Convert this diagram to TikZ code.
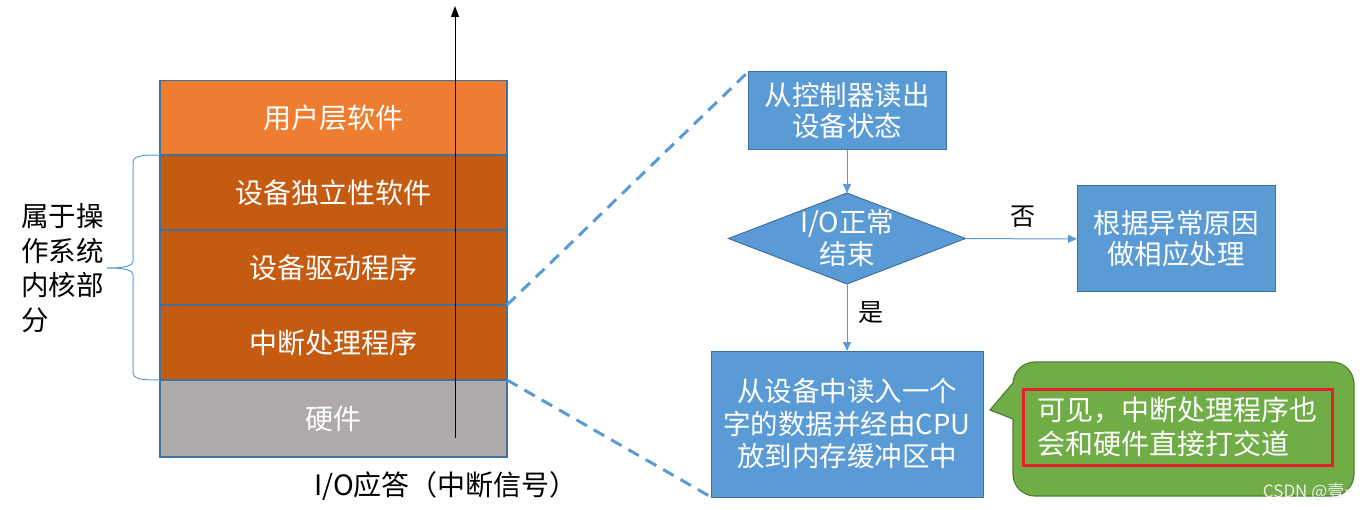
\documentclass[tikz,border=0pt]{standalone}
\usepackage{fontspec}
\setmainfont{Noto Sans CJK SC}
\usetikzlibrary{shapes.geometric,arrows.meta}
\definecolor{userc}{HTML}{ED7D31}
\definecolor{kernc}{HTML}{C55A11}
\definecolor{hwc}{HTML}{AEAAAA}
\definecolor{bluec}{HTML}{5B9BD5}
\definecolor{borderc}{HTML}{41719C}
\definecolor{greenc}{HTML}{70AD47}
\definecolor{greenb}{HTML}{507E32}
\definecolor{redc}{HTML}{E8202A}
\tikzset{
  layer/.style={draw=borderc, line width=1.2pt, minimum width=347pt, minimum height=75pt, inner sep=0pt, outer sep=0pt, text=white, font=\fontsize{28}{32}\selectfont},
  flowbox/.style={draw=borderc, line width=1pt, fill=bluec, inner sep=0pt, outer sep=0pt, text=white, align=center, font=\fontsize{27.5}{31}\selectfont},
  flowarrow/.style={draw=bluec, line width=1pt, -{Triangle[length=9pt,width=8pt]}},
  dashlink/.style={draw=bluec, line width=3pt, dash pattern=on 12pt off 8pt},
  lbl/.style={text=black, font=\fontsize{25}{28}\selectfont}
}
\begin{document}
\begin{tikzpicture}[x=1pt,y=-1pt]
\useasboundingbox (0,0) rectangle (1367,510);
% stack
\node[layer, fill=userc, minimum height=75pt] (user) at (333.5,118) {用户层软件};
\node[layer, fill=kernc] (indep) at (333.5,192.5) {设备独立性软件};
\node[layer, fill=kernc] (driver) at (333.5,267.5) {设备驱动程序};
\node[layer, fill=kernc] (intr) at (333.5,342.5) {中断处理程序};
\node[layer, fill=hwc, minimum height=77pt] (hw) at (333.5,418.5) {硬件};
% vertical arrow
\coordinate (ioStart) at (455,438);
\coordinate (ioEnd) at (455,6);
\draw[black, line width=1pt, -{Triangle[length=11pt,width=8pt]}] (ioStart) -- (ioEnd);
\node[lbl, font=\fontsize{28}{30}\selectfont] (iolabel) at (446,486) {I/O应答（中断信号）};
% brace
\draw[bluec, line width=1pt] (indep.north west) .. controls (140,155) and (133,156) .. (133,163)
  -- (133,261) .. controls (133,266) and (125,268) .. (107,268)
  .. controls (125,268) and (133,270) .. (133,275)
  -- (133,372) .. controls (133,379) and (140,380) .. (intr.south west);
\node[lbl, font=\fontsize{27.5}{34.5}\selectfont, align=left, anchor=west, inner sep=0pt] (kern) at (21,268) {属于操\\作系统\\内核部\\分};
% flowchart
\node[flowbox, minimum width=198pt, minimum height=78pt] (read) at (847,111) {从控制器读出\\设备状态};
\node[diamond, draw=borderc, line width=1pt, fill=bluec, minimum width=237pt, minimum height=91pt, inner sep=0pt, outer sep=0pt] (ok) at (847,238.5) {};
\node[text=white, align=center, font=\fontsize{27.5}{32}\selectfont, inner sep=0pt] (oktext) at (ok.center) {I/O正常\\结束};
\node[flowbox, minimum width=198pt, minimum height=106pt] (handle) at (1176,239) {根据异常原因\\做相应处理};
\node[flowbox, minimum width=272pt, minimum height=146pt, font=\fontsize{27.5}{32.5}\selectfont] (store) at (847,424) {从设备中读入一个\\字的数据并经由CPU\\放到内存缓冲区中};
\draw[flowarrow] (read) -- (ok);
\draw[flowarrow] (ok) -- (handle);
\draw[flowarrow] (ok) -- (store);
\node[lbl] (no) at (1023,217) {否};
\node[lbl] (yes) at (871,313) {是};
% dashed zoom lines
\draw[dashlink] (intr.north east) -- (read.north west);
\draw[dashlink] (hw.north east) -- (store.south west);
% callout
\draw[fill=greenc, draw=greenb, line width=1.2pt] (1013,383) [rounded corners=22pt] -- (1013,362) -- (1354,362) -- (1354,496) -- (1013,496) [sharp corners] -- (1013,419) -- (990,410) -- cycle;
\node[draw=redc, line width=3pt, minimum width=309pt, minimum height=76pt, text=white, align=left, font=\fontsize{28}{34}\selectfont, inner sep=0pt] (note) at (1177.5,427) {可见，中断处理程序也\\会和硬件直接打交道};
\node[text=white!85!gray, font=\fontsize{17}{20}\selectfont, anchor=east, inner sep=0pt] (wm) at (1354,492) {CSDN @壹\string~};
\end{tikzpicture}
\end{document}
